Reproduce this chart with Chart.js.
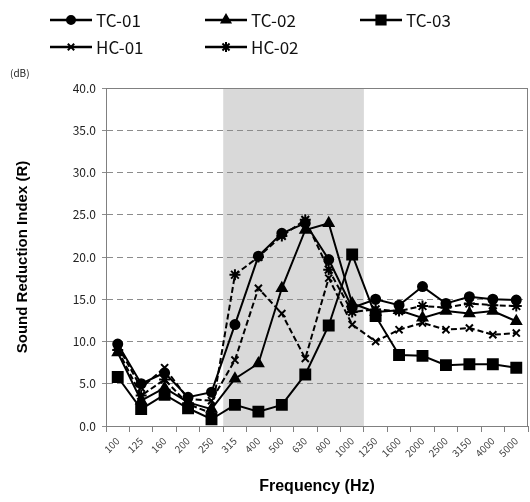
<!DOCTYPE html>
<html>
<head>
<meta charset="utf-8">
<script src="https://cdn.jsdelivr.net/npm/chart.js"></script>
<style>
  html, body { margin: 0; padding: 0; background: #fff; overflow: hidden; }
  canvas { display: block; }
</style>
</head>
<body>
<canvas id="c" width="537" height="502"></canvas>
<script>
const freqs = ['100', '125', '160', '200', '250', '315', '400', '500', '630', '800', '1000', '1250', '1600', '2000', '2500', '3150', '4000', '5000'];

const tc01 = [9.7, 5.0, 6.3, 3.4, 4.0, 12.0, 20.1, 22.8, 24.0, 19.7, 14.0, 15.0, 14.3, 16.5, 14.5, 15.3, 15.0, 14.9];
const tc02 = [8.7, 3.0, 4.5, 2.8, 2.0, 5.6, 7.4, 16.3, 23.2, 24.0, 14.5, 13.5, 13.7, 12.8, 13.6, 13.3, 13.6, 12.4];
const tc03 = [5.8, 2.0, 3.7, 2.1, 0.8, 2.5, 1.7, 2.5, 6.1, 11.9, 20.3, 13.0, 8.4, 8.3, 7.2, 7.3, 7.3, 6.9];
const hc01 = [9.5, 4.5, 6.9, 3.2, 3.0, 7.8, 16.3, 13.3, 8.0, 17.5, 12.0, 10.0, 11.4, 12.2, 11.4, 11.6, 10.8, 11.0];
const hc02 = [9.0, 3.6, 5.5, 2.6, 1.5, 17.9, 20.0, 22.5, 24.4, 18.5, 13.5, 13.8, 13.6, 14.2, 14.0, 14.5, 14.3, 14.2];

const yTicks = [0, 5, 10, 15, 20, 25, 30, 35, 40];
// shaded band covers these categories
const bandFrom = '315';
const bandTo = '1000';

const names = ['TC-01', 'TC-02', 'TC-03', 'HC-01', 'HC-02'];
const series = [tc01, tc02, tc03, hc01, hc02];
const styles = ['circle', 'triangle', 'rect', 'crossRot', 'star'];
const radii = [4.5, 5.5, 7, 5, 5.5];

const bandPlugin = {
  id: 'band',
  beforeDraw(chart) {
    const x = chart.scales.x, a = chart.chartArea, ctx = chart.ctx;
    const w = x.width / freqs.length;
    const l = x.getPixelForValue(freqs.indexOf(bandFrom)) - w / 2;
    const r = x.getPixelForValue(freqs.indexOf(bandTo)) + w / 2;
    ctx.save();
    ctx.fillStyle = '#d9d9d9';
    ctx.fillRect(l, a.top, r - l, a.bottom - a.top);
    ctx.restore();
  },
  beforeDatasetsDraw(chart) {
    const a = chart.chartArea, ctx = chart.ctx;
    ctx.save();
    ctx.strokeStyle = '#808080';
    ctx.lineWidth = 1;
    ctx.strokeRect(a.left + 0.5, a.top + 0.5, a.right - a.left - 1, a.bottom - a.top);
    ctx.restore();
  }
};

const legendPlugin = {
  id: 'myLegend',
  afterDraw(chart) {
    const ctx = chart.ctx;
    const pos = [[50, 20], [205, 20], [360, 20], [50, 47], [205, 47]];
    ctx.save();
    chart.data.datasets.forEach((ds, i) => {
      const [x, y] = pos[i];
      ctx.strokeStyle = '#000';
      ctx.fillStyle = '#000';
      ctx.lineWidth = 2.5;
      ctx.setLineDash([]);
      ctx.beginPath();
      ctx.moveTo(x, y);
      ctx.lineTo(x + 42, y);
      ctx.stroke();
      ctx.lineWidth = 2;
      if (Chart.helpers && Chart.helpers.drawPoint) {
        Chart.helpers.drawPoint(ctx, {pointStyle: ds.pointStyle, radius: ds.pointRadius - 0.5, rotation: 0, borderWidth: 2}, x + 21, y);
      }
      ctx.fillStyle = '#111';
      ctx.font = '17px "Noto Sans CJK KR"';
      ctx.textBaseline = 'middle';
      ctx.fillText(ds.label, x + 46, y + 1);
    });
    ctx.font = '10px "Noto Sans CJK KR"';
    ctx.fillStyle = '#222';
    ctx.fillText('(dB)', 10, 73);
    ctx.restore();
  }
};

new Chart(document.getElementById('c'), {
  type: 'line',
  data: {
    labels: freqs,
    datasets: series.map((d, i) => ({
      label: names[i],
      data: d,
      borderColor: '#000',
      backgroundColor: '#000',
      borderWidth: 2,
      borderDash: i >= 3 ? [6, 3] : [],
      pointStyle: styles[i],
      pointRadius: radii[i],
      pointBorderWidth: 2,
      pointBorderColor: '#000',
      pointBackgroundColor: '#000',
      tension: 0
    }))
  },
  options: {
    responsive: false,
    animation: false,
    layout: { padding: { top: 88, right: 3, left: 0, bottom: 0 } },
    plugins: {
      legend: { display: false },
      tooltip: { enabled: false }
    },
    scales: {
      x: {
        offset: true,
        afterFit(s) { s.height = 76; },
        grid: {
          display: true,
          drawOnChartArea: false,
          offset: true,
          tickLength: 6,
          color: '#808080'
        },
        border: { color: '#808080' },
        ticks: {
          maxRotation: 45,
          minRotation: 45,
          autoSkip: false,
          color: '#444',
          font: { family: '"Noto Sans CJK KR"', size: 10 }
        },
        title: {
          display: true,
          text: 'Frequency (Hz)',
          color: '#000',
          font: { family: '"Liberation Sans"', size: 16, weight: 'bold' },
          padding: { top: 4, bottom: 6 }
        }
      },
      y: {
        min: 0,
        max: 40,
        afterFit(s) { s.width = 106; },
        afterBuildTicks(s) { s.ticks = yTicks.map(v => ({ value: v })); },
        grid: {
          color: '#8c8c8c',
          tickLength: 4,
          lineWidth: 1
        },
        border: { color: '#808080', dash: [6, 4] },
        ticks: {
          color: '#222',
          padding: 6,
          font: { family: '"Noto Sans CJK KR"', size: 12 },
          callback: v => v.toFixed(1)
        },
        title: {
          display: true,
          text: 'Sound Reduction Index (R)',
          color: '#000',
          font: { family: '"Liberation Sans"', size: 15, weight: 'bold' },
          padding: { top: 14, bottom: 4 }
        }
      }
    }
  },
  plugins: [bandPlugin, legendPlugin]
});
</script>
</body>
</html>
